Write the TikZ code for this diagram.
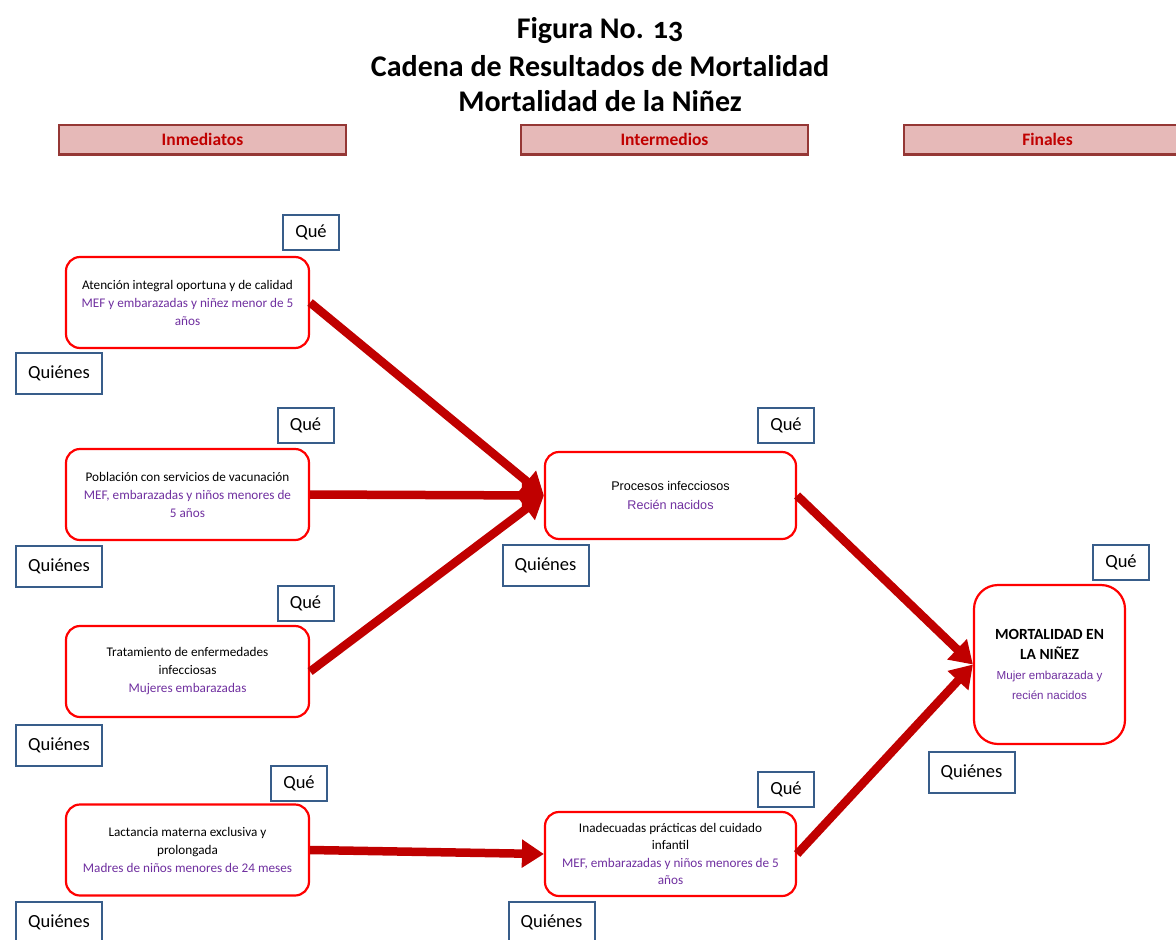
\documentclass[tikz,border=0pt]{standalone}
\usepackage{fontspec}
\setmainfont{Carlito}
\newfontfamily\arialfont{Liberation Sans}
\usetikzlibrary{arrows.meta}
\definecolor{boxred}{RGB}{255,0,0}
\definecolor{arrowred}{RGB}{192,0,0}
\definecolor{txtpurple}{RGB}{112,48,160}
\definecolor{tagblue}{RGB}{56,93,138}
\definecolor{hdrfill}{RGB}{230,185,184}
\definecolor{hdrline}{RGB}{149,55,53}
\definecolor{hdrtext}{RGB}{192,0,0}
\newcommand{\finhead}[1]{\textbf{\fontsize{15.5}{21}\selectfont #1}}
\newcommand{\finwho}[1]{\textcolor{txtpurple}{\arialfont\fontsize{11.6}{19}\selectfont #1}}
\tikzset{
  resbox/.style={draw=boxred, line width=2.2pt, rounded corners=14pt, fill=white,
    minimum width=243pt, minimum height=91pt, inner sep=2pt, align=center,
    font=\fontsize{13.2}{18}\selectfont},
  tagbox/.style={draw=tagblue, line width=2pt, fill=white,
    font=\fontsize{18.5}{20}\selectfont, inner sep=0pt},
  que/.style={tagbox, minimum width=56pt, minimum height=35pt},
  quien/.style={tagbox, minimum width=86pt, minimum height=41pt},
  hdr/.style={draw=hdrline, line width=1.2pt, fill=hdrfill, minimum width=287pt,
    minimum height=29pt, inner sep=0pt, font=\bfseries\fontsize{17.5}{20}\selectfont,
    text=hdrtext},
  titletext/.style={font=\bfseries\fontsize{30}{32}\selectfont\addfontfeatures{Numbers=OldStyle},
    inner sep=0pt},
  flow/.style={draw=arrowred, line width=8.5pt, -{Triangle[length=22pt,width=27pt]}},
}
\begin{document}
\begin{tikzpicture}[x=1pt,y=-1pt]
\useasboundingbox (0,0) rectangle (1176,940);

% titles
\node[titletext] (t1) at (600,31) {Figura No. 13};
\node[titletext] (t2) at (600,66) {Cadena de Resultados de Mortalidad};
\node[titletext] (t3) at (600,101) {Mortalidad de la Niñez};

% column headers
\node[hdr] (h1) at (202.5,139.5) {Inmediatos};
\node[hdr] (h2) at (664.5,139.5) {Intermedios};
\node[hdr] (h3) at (1047.5,139.5) {Finales};
\foreach \h in {h1,h2,h3}
  \draw[hdrline, line width=2.2pt] (\h.south west) -- (\h.south east);

% immediate results
\node[resbox] (b1) at (187.5,302.5) {Atención integral oportuna y de calidad\\
  \textcolor{txtpurple}{MEF y embarazadas y niñez menor de 5}\\\textcolor{txtpurple}{años}};
\node[que] (q1) at (311,232.5) {Qué};
\node[quien] (w1) at (59,373) {Quiénes};

\node[resbox] (b2) at (187.5,494.5) {Población con servicios de vacunación\\
  \textcolor{txtpurple}{MEF, embarazadas y niños menores de}\\\textcolor{txtpurple}{5 años}};
\node[que] (q2) at (305.5,425.5) {Qué};
\node[quien] (w2) at (59,566) {Quiénes};

\node[resbox] (b3) at (187.5,671.5) {Tratamiento de enfermedades\\infecciosas\\
  \textcolor{txtpurple}{Mujeres embarazadas}};
\node[que] (q3) at (305.5,603.5) {Qué};
\node[quien] (w3) at (59,745.5) {Quiénes};

\node[resbox] (b4) at (187.5,850) {Lactancia materna exclusiva y\\prolongada\\
  \textcolor{txtpurple}{Madres de niños menores de 24 meses}};
\node[que] (q4) at (299,783.5) {Qué};
\node[quien] (w4) at (59,922) {Quiénes};

% intermediate results
\node[resbox, minimum width=251pt, minimum height=87pt,
  font=\arialfont\fontsize{12.6}{19}\selectfont] (p1) at (670.5,495.5)
  {Procesos infecciosos\\\textcolor{txtpurple}{Recién nacidos}};
\node[que] (q5) at (786,425.5) {Qué};
\node[quien] (w5) at (545.5,565.5) {Quiénes};

\node[resbox, minimum width=251pt, minimum height=84pt,
  font=\fontsize{13.2}{17.5}\selectfont] (p2) at (670.5,854)
  {Inadecuadas prácticas del cuidado\\infantil\\
  \textcolor{txtpurple}{MEF, embarazadas y niños menores de 5}\\\textcolor{txtpurple}{años}};
\node[que] (q6) at (786,789) {Qué};
\node[quien] (w6) at (551.5,922) {Quiénes};

% final result
\node[resbox, minimum width=151pt, minimum height=159pt, rounded corners=24pt,
  font=\fontsize{12}{20}\selectfont] (f1) at (1049.5,664.5)
  {\finhead{MORTALIDAD EN}\\\finhead{LA NIÑEZ}\\
   \finwho{Mujer embarazada y}\\\finwho{recién nacidos}};
\node[que] (q7) at (1121,562.5) {Qué};
\node[quien] (w7) at (971.5,772) {Quiénes};

% result chain
\draw[flow] (b1.east) -- (p1.west);
\draw[flow] (b2.east) -- (p1.west);
\draw[flow] (b3.east) -- (p1.west);
\draw[flow] (b4.east) -- (p2.west);
\draw[flow] (p1.east) -- (f1.west);
\draw[flow] (p2.east) -- (f1.west);
\end{tikzpicture}
\end{document}
